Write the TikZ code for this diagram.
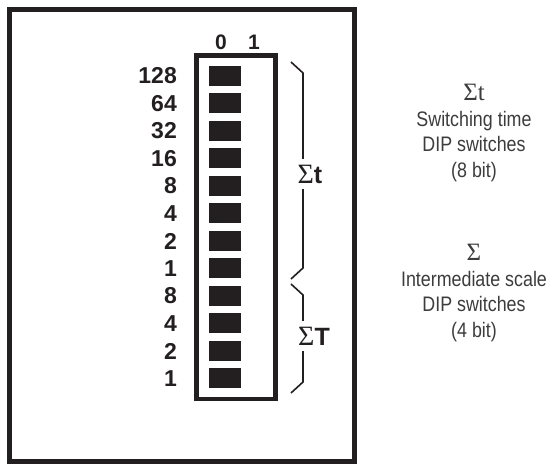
\documentclass[tikz,border=0pt]{standalone}
\usepackage{fontspec}
\setmainfont{Liberation Sans}
\newfontfamily\condfont[FakeStretch=0.85]{Liberation Sans}
\newfontfamily\sigmafont{Liberation Serif}
\usetikzlibrary{positioning}
\definecolor{dipblack}{RGB}{35,31,32}
\definecolor{notegray}{RGB}{60,60,60}

\begin{document}
\begin{tikzpicture}[x=1pt,y=-1pt]

\tikzstyle{weight}=[
  anchor=east,
  inner sep=0pt,
  text=dipblack,
  font=\fontsize{23}{23}\selectfont\bfseries
]
\tikzstyle{poslabel}=[inner sep=0pt, text=dipblack, font=\fontsize{21}{21}\selectfont\bfseries]
\tikzstyle{sumlabel}=[
  fill=white,
  inner xsep=1pt,
  inner ysep=6pt,
  text=dipblack,
  font=\fontsize{25}{25}\selectfont\bfseries
]
\tikzstyle{brace}=[line width=1.6pt, dipblack]
\tikzstyle{note}=[
  anchor=north,
  align=center,
  inner sep=0pt,
  text=notegray,
  font=\condfont\fontsize{21}{25.6}\selectfont
]

\useasboundingbox (0,0) rectangle (550,465);

% Housing and switch body
\draw[line width=5pt, dipblack] (9,9.5) rectangle (354,462);
\draw[line width=4.5pt, dipblack] (196.5,55.5) rectangle (275.5,399);

% Position header
\node[poslabel] (off) at (221,42) {0};
\node[poslabel] (on) at (254,42) {1};

% Switches with their weights
\foreach \w [count=\i from 0] in {128,64,32,16,8,4,2,1,8,4,2,1} {
  \fill[dipblack] (209,{66+27.5*\i}) rectangle +(32,20);
  \node[weight] (w\i) at (177,{76+27.5*\i}) {\w};
}

% Braces
\draw[brace] (291,62) -- (303,73) -- (303,268) -- (291,279);
\draw[brace] (291,284) -- (303,295) -- (303,382) -- (291,393);
\node[sumlabel] (sumt) at (310,174) {{\sigmafont\mdseries\fontsize{28}{28}\selectfont Σ}t};
\node[sumlabel] (sumT) at (314,336) {{\sigmafont\mdseries\fontsize{28}{28}\selectfont Σ}T};

% Notes
\node[note] (timenote) at (474,84)
{{\sigmafont\fontsize{25}{25}\selectfont Σt}\\Switching time\\DIP switches\\(8 bit)};
\node[note] (scalenote) at (474,244)
{{\sigmafont\fontsize{25}{25}\selectfont Σ}\\Intermediate scale\\DIP switches\\(4 bit)};

\end{tikzpicture}
\end{document}
